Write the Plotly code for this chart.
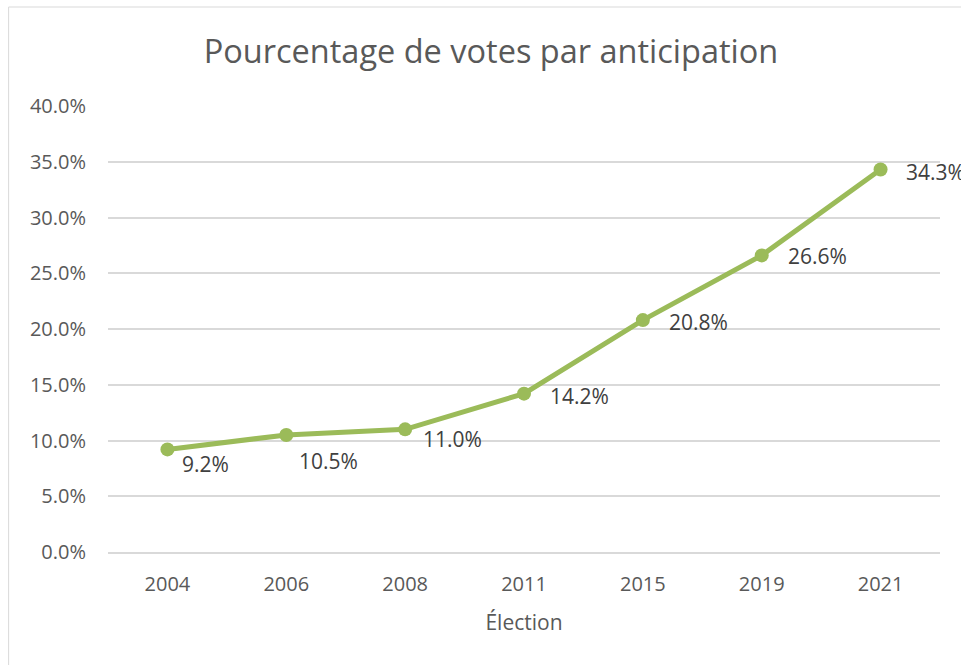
import plotly.graph_objects as go

elections = ["2004", "2006", "2008", "2011", "2015", "2019", "2021"]
pct_anticipation = [9.2, 10.5, 11.0, 14.2, 20.8, 26.6, 34.3]
y_ticks = [0, 5, 10, 15, 20, 25, 30, 35, 40]
y_tick_labels = [f"{v:.1f}%" for v in y_ticks]

# label offsets (px) relative to each point (style only)
label_dx = [13, 11, 16, 24, 24, 24, 23]
label_dy = [-15, -26, -10, -2, -2, -1, -2]

GREEN = "#9BBB59"
GRID = "#D9D9D9"
TXT = "#595959"
FONT = "Open Sans"

fig = go.Figure()
fig.add_trace(go.Scatter(
    x=elections, y=pct_anticipation, mode="lines+markers",
    line=dict(color=GREEN, width=5),
    marker=dict(color=GREEN, size=14),
    hoverinfo="skip", showlegend=False, cliponaxis=False,
))

for i, (y, dx, dy) in enumerate(zip(pct_anticipation, label_dx, label_dy)):
    fig.add_annotation(
        x=i, y=y, xref="x", yref="y", text=f"{y:.1f}%", showarrow=False,
        xanchor="left", yanchor="middle", xshift=dx, yshift=dy,
        font=dict(family=FONT, size=21, color="#404040"),
    )

L, R, T, B = 107.5, 20.5, 106, 113
W, H = 961, 665
pw, ph = W - L - R, H - T - B
fig.add_shape(
    type="rect", xref="paper", yref="paper", layer="below",
    x0=(8 - L) / pw, x1=(1100 - L) / pw,
    y0=(H - B - 700) / ph, y1=(H - B - 7) / ph,
    line=dict(color=GRID, width=1), fillcolor="rgba(0,0,0,0)",
)

fig.update_layout(
    width=W, height=H,
    margin=dict(l=L, r=R, t=T, b=B, autoexpand=False),
    paper_bgcolor="white", plot_bgcolor="white",
    font=dict(family=FONT, color=TXT),
    title=dict(
        text="Pourcentage de votes par anticipation",
        x=491 / W, xref="container", xanchor="center",
        y=1 - 52 / H, yref="container", yanchor="middle",
        font=dict(family=FONT, size=32.5, color=TXT),
    ),
    xaxis=dict(
        type="category", range=[-0.5, 6.5],
        showgrid=False, showline=True, linecolor=GRID, linewidth=1.5,
        ticks="", tickfont=dict(family=FONT, size=20, color=TXT),
        ticklabelstandoff=13,
        title=dict(text="Élection", font=dict(family=FONT, size=21, color=TXT), standoff=20),
    ),
    yaxis=dict(
        range=[0, 40], tickvals=y_ticks, ticktext=y_tick_labels,
        showgrid=True, gridcolor=GRID, gridwidth=1.5,
        zeroline=False, showline=False, ticks="",
        tickfont=dict(family=FONT, size=20, color=TXT),
        ticklabelstandoff=21,
    ),
)

fig.write_html("out.html", config={"displayModeBar": False},
               post_script="document.body.style.margin='0';")
